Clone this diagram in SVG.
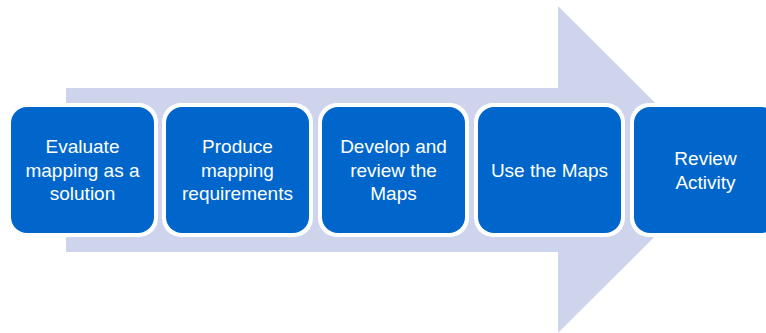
<svg xmlns="http://www.w3.org/2000/svg" width="766" height="333" viewBox="0 0 766 333">
<style>
.halo{fill:#fff}
.box{fill:#0066CC}
.t{font-family:"Liberation Sans",Arial,sans-serif;font-size:19px;fill:#fff;text-anchor:middle}
</style>
<rect width="766" height="333" fill="#fff"/>
<g id="arrow">
<polygon points="66,88 558,88 558,6 722,169.5 558,333 558,252 66,252" fill="#CDD4EC"/>
</g>
<g id="node1">
<rect class="halo" x="7" y="103" width="151" height="134" rx="19"/>
<rect class="box" x="11" y="107" width="143" height="126" rx="16"/>
<text class="t" x="82.5" y="153">Evaluate</text>
<text class="t" x="82.5" y="176.5">mapping as a</text>
<text class="t" x="82.5" y="200">solution</text>
</g>
<g id="node2">
<rect class="halo" x="162" y="103" width="151" height="134" rx="19"/>
<rect class="box" x="166" y="107" width="143" height="126" rx="16"/>
<text class="t" x="237.5" y="153">Produce</text>
<text class="t" x="237.5" y="176.5">mapping</text>
<text class="t" x="237.5" y="200">requirements</text>
</g>
<g id="node3">
<rect class="halo" x="318" y="103" width="151" height="134" rx="19"/>
<rect class="box" x="322" y="107" width="143" height="126" rx="16"/>
<text class="t" x="393.5" y="153">Develop and</text>
<text class="t" x="393.5" y="176.5">review the</text>
<text class="t" x="393.5" y="200">Maps</text>
</g>
<g id="node4">
<rect class="halo" x="474" y="103" width="151" height="134" rx="19"/>
<rect class="box" x="478" y="107" width="143" height="126" rx="16"/>
<text class="t" x="549.5" y="177">Use the Maps</text>
</g>
<g id="node5">
<rect class="halo" x="630" y="103" width="151" height="134" rx="19"/>
<rect class="box" x="634" y="107" width="143" height="126" rx="16"/>
<text class="t" x="705.5" y="165">Review</text>
<text class="t" x="705.5" y="188.5">Activity</text>
</g>
<g id="connectors"></g>
</svg>
